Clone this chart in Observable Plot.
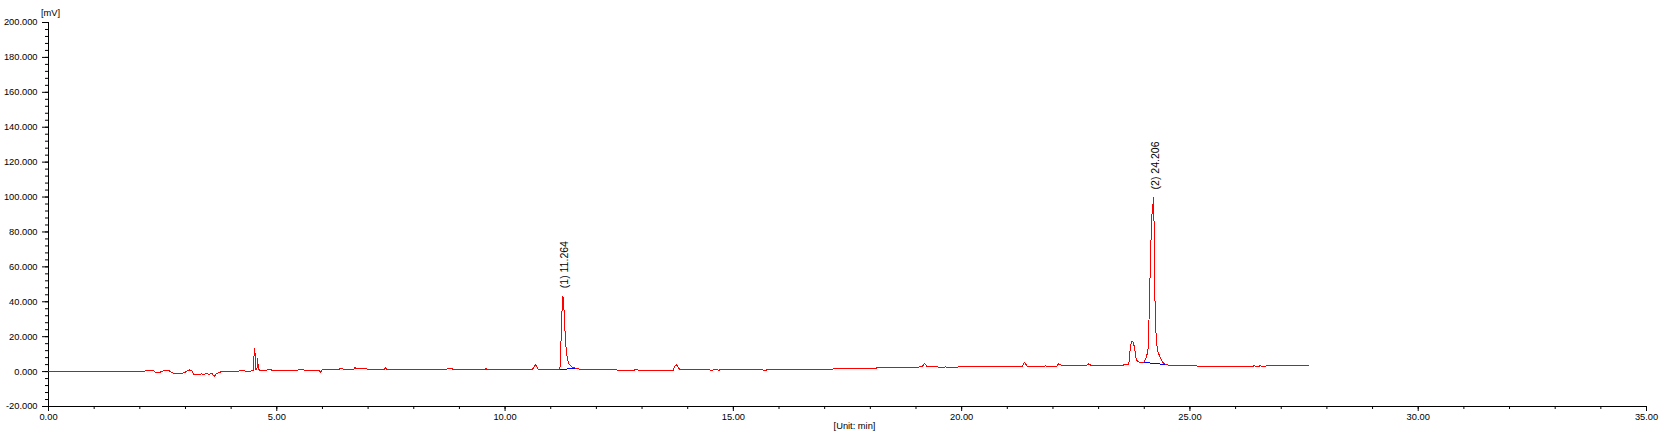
<!DOCTYPE html>
<html><head><meta charset="utf-8">
<script src="https://cdn.jsdelivr.net/npm/d3@7"></script>
<script src="https://cdn.jsdelivr.net/npm/@observablehq/plot@0.6"></script>
<style>html,body{margin:0;padding:0;background:#fff;overflow:hidden}</style>
</head><body><div id="chart"></div>
<script>
// Chromatogram trace: retention time (min) and signal (mV)
const time = [0.00,2.10,2.13,2.30,2.34,2.42,2.48,2.57,2.63,2.70,2.74,2.94,3.02,3.08,3.14,3.19,3.30,3.35,3.40,3.46,3.52,3.58,3.63,3.68,3.73,3.78,4.14,4.18,4.30,4.34,4.42,4.45,4.49,4.505,4.52,4.535,4.565,4.58,4.595,4.62,4.77,4.79,4.88,4.90,5.46,5.49,5.57,5.60,5.92,5.96,6.00,6.36,6.38,6.44,6.46,6.68,6.71,6.74,6.96,6.98,7.36,7.38,7.41,7.60,7.62,8.72,8.74,8.84,8.86,9.56,9.58,9.61,10.60,10.64,10.67,10.70,10.73,11.20,11.215,11.24,11.264,11.28,11.30,11.33,11.36,11.39,11.47,11.55,11.65,12.44,12.46,12.82,12.87,12.92,13.68,13.72,13.75,13.78,13.82,14.48,14.50,14.55,14.57,14.65,14.68,14.72,15.64,15.66,15.72,15.74,17.17,17.19,18.12,18.14,19.04,19.08,19.13,19.19,19.24,19.47,19.50,19.62,19.65,19.68,19.90,19.93,20.85,21.33,21.36,21.38,21.41,21.44,21.82,21.84,21.86,22.08,22.11,22.13,22.16,22.19,22.74,22.77,22.80,22.84,23.54,23.56,23.66,23.70,23.73,23.76,23.79,23.82,23.85,23.90,23.99,24.05,24.09,24.12,24.16,24.206,24.225,24.24,24.27,24.30,24.36,24.41,24.49,24.55,25.14,25.17,26.39,26.41,26.43,26.52,26.54,26.56,26.66,26.68,27.60];
const signal = [-0.1,-0.1,0.6,0.6,-0.6,-0.6,0.1,0.9,0.7,-0.5,-0.9,-0.9,0.0,1.0,0.3,-1.9,-1.9,-1.2,-1.7,-0.9,-1.6,-1.0,-2.7,-1.2,-0.6,-0.1,-0.1,0.5,0.5,-0.1,-0.1,0.5,0.5,12.0,13.3,1.5,1.0,7.4,2.5,0.5,0.5,1.1,1.1,0.6,0.7,1.4,1.4,0.8,0.8,-0.4,1.2,1.2,1.7,1.7,1.2,1.2,2.3,1.8,1.8,1.2,1.2,2.4,1.4,1.4,1.2,1.2,1.8,1.8,1.2,1.2,1.8,1.2,1.2,3.0,4.1,2.6,1.2,1.2,8,31,43.2,42,29.4,15,8.3,4.5,2.6,1.8,1.3,1.3,0.7,0.7,1.5,0.7,0.7,3.3,4.0,3.0,1.3,1.3,0.7,0.7,1.3,1.3,0.7,1.3,1.3,0.7,0.7,1.3,1.3,1.7,1.7,2.2,2.2,2.9,2.9,4.6,2.9,2.9,2.2,2.2,2.8,2.2,2.2,2.9,2.9,3.0,4.6,5.4,4.0,3.0,3.0,3.6,3.0,3.0,4.0,4.5,4.0,3.6,3.6,4.5,4.0,3.6,3.6,4.1,4.1,15.0,17.5,16.9,13.1,7.4,6.0,5.4,5.4,8.3,14,48,88,99.8,64,30,16,11.2,7.4,5.1,3.9,3.6,3.6,3.0,3.0,3.6,3.0,3.0,3.6,3.0,3.0,3.6,3.6];

// Integration baselines (blue)
const baselineTime = [11.20, 11.52, 23.99, 24.52];
const baselineValue = [1.2, 1.8, 5.3, 3.9];
const baselinePeak = [1, 1, 2, 2];

// Peak annotations
const peakTime = [11.264, 24.206];
const peakHeight = [43.2, 99.8];
const peakLabel = ["(1) 11.264", "(2) 24.206"];

// Axes
const xMajorTicks = [0, 5, 10, 15, 20, 25, 30, 35];
const yMajorTicks = [-20, 0, 20, 40, 60, 80, 100, 120, 140, 160, 180, 200];
const yUnit = "[mV]";
const xUnit = "[Unit: min]";

const trace = time.map((t, i) => ({t, v: signal[i]}));
const baselines = baselineTime.map((t, i) => ({t, v: baselineValue[i], peak: baselinePeak[i]}));
const peaks = peakTime.map((t, i) => ({t, v: peakHeight[i], label: peakLabel[i]}));
const xMinorTicks = d3.range(0, 35.5, 1);
const yMinorTicks = d3.range(-20, 200.5, 4);

const chart = Plot.plot({
  width: 1664,
  height: 440,
  marginLeft: 48,
  marginRight: 18,
  marginTop: 22,
  marginBottom: 34,
  style: {fontFamily: "'Liberation Sans', Arial, sans-serif", fontSize: "9.3px", color: "#000", background: "#fff"},
  x: {domain: [0, 35], label: null},
  y: {domain: [-20, 200], label: null},
  marks: [
    Plot.axisX(xMinorTicks, {tickSize: 3, tickFormat: () => "", label: null}),
    Plot.axisX(xMajorTicks, {tickSize: 5, tickPadding: 2, tickFormat: d => d.toFixed(2), label: null}),
    Plot.axisY(yMinorTicks, {tickSize: 3, tickFormat: () => "", label: null}),
    Plot.axisY(yMajorTicks, {tickSize: 6, tickPadding: 5, tickFormat: d => d.toFixed(3), label: null}),
    Plot.ruleX([0], {stroke: "#000"}),
    Plot.ruleY([-20], {stroke: "#000"}),
    Plot.line(baselines, {x: "t", y: "v", z: "peak", stroke: "#0000ff", strokeWidth: 1, shapeRendering: "crispEdges"}),
    Plot.line(trace, {x: "t", y: "v", stroke: "#ff0000", strokeWidth: 1, shapeRendering: "crispEdges"}),
    Plot.text(peaks, {x: "t", y: "v", text: "label", rotate: -90, textAnchor: "start", dy: -8, dx: 2, fontSize: 10.5, fill: "#000"}),
    Plot.text([yUnit], {text: d => d, frameAnchor: "top-left", textAnchor: "middle", dx: 2, dy: -13, fill: "#000"}),
    Plot.text([xUnit], {text: d => d, frameAnchor: "bottom", textAnchor: "middle", dx: 7, dy: 22, fill: "#000"})
  ]
});
document.getElementById("chart").appendChild(chart);
</script>
</body></html>
